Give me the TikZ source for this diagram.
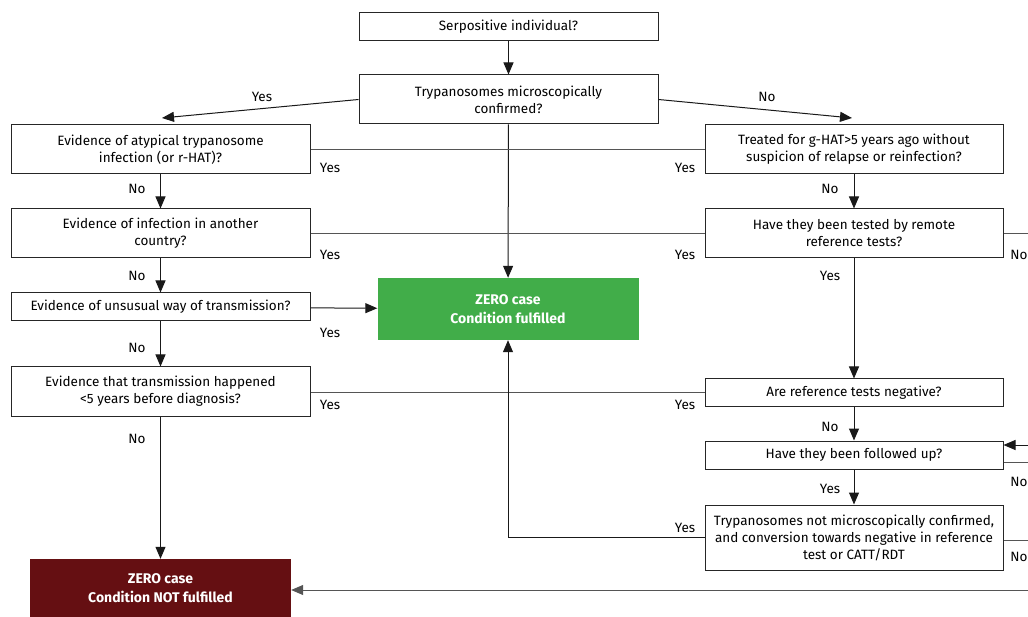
\documentclass[tikz,border=0pt]{standalone}
\usepackage{fontspec}
\setmainfont{Fira Sans}
\usetikzlibrary{arrows.meta}
\definecolor{okgreen}{HTML}{41AD49}
\definecolor{nored}{HTML}{650F12}
\definecolor{hline}{HTML}{555555}
\tikzset{
  qbox/.style={draw=black!85, line width=1pt, fill=white, align=center, inner sep=0pt, font=\fontsize{13.5}{17}\selectfont},
  endbox/.style={align=center, inner sep=0pt, text=white, font=\bfseries\fontsize{14}{19}\selectfont},
  conn/.style={line width=1pt, draw=black!90},
  arr/.style={conn, -{Triangle[length=12pt,width=10pt]}},
  hconn/.style={line width=1pt, draw=hline},
  harr/.style={hconn, -{Triangle[length=12pt,width=10pt]}},
  lbl/.style={inner sep=0pt, font=\fontsize{13.5}{15}\selectfont}
}
\begin{document}
\begin{tikzpicture}[x=1pt,y=-1pt]
\useasboundingbox (0,0) rectangle (1028,617);
% center column boxes
\node[qbox, minimum width=299pt, minimum height=28pt] (serp) at (508.5,27) {Serpositive individual?};
\node[qbox, minimum width=299pt, minimum height=49pt] (tryp) at (508.5,99.5) {Trypanosomes microscopically\\confirmed?};
\node[endbox, fill=okgreen, minimum width=261pt, minimum height=62pt] (zok) at (508,309) {ZERO case\\Condition fulfilled};
\node[endbox, fill=nored, minimum width=261pt, minimum height=58pt] (znot) at (160.5,588) {ZERO case\\Condition NOT fulfilled};
% left column
\node[qbox, minimum width=299pt, minimum height=49pt] (l1) at (160.5,149.5) {Evidence of atypical trypanosome\\infection (or r-HAT)?};
\node[qbox, minimum width=299pt, minimum height=49pt] (l2) at (160.5,233.5) {Evidence of infection in another\\country?};
\node[qbox, minimum width=299pt, minimum height=28pt] (l3) at (160.5,307) {Evidence of unsusual way of transmission?};
\node[qbox, minimum width=299pt, minimum height=49pt] (l4) at (160.5,391.5) {Evidence that transmission happened\\<5 years before diagnosis?};
% right column
\node[qbox, minimum width=298pt, minimum height=49pt] (r1) at (854,149.5) {Treated for g-HAT>5 years ago without\\suspicion of relapse or reinfection?};
\node[qbox, minimum width=298pt, minimum height=49pt] (r2) at (854,233.5) {Have they been tested by remote\\reference tests?};
\node[qbox, minimum width=298pt, minimum height=28pt] (r3) at (854,393) {Are reference tests negative?};
\node[qbox, minimum width=298pt, minimum height=28pt] (r4) at (854,455) {Have they been followed up?};
\node[qbox, minimum width=298pt, minimum height=65pt] (r5) at (854,537.5) {Trypanosomes not microscopically confirmed,\\and conversion towards negative in reference\\test or CATT/RDT};
% coordinates
\coordinate (ya) at (162,118);
\coordinate (na) at (852,118);
\coordinate (e2) at (1028,234);
\coordinate (e4in) at (1028,445);
\coordinate (e4out) at (1028,462);
\coordinate (e5) at (1028,540);
\coordinate (eb) at (1028,590);
% connectors
\draw[arr] (serp) -- (tryp);
\draw[arr] (tryp.west) -- (ya);
\draw[arr] (tryp.east) -- (na);
\draw[arr] (tryp) -- (zok);
% horizontal yes lines
\draw[hconn] (l1.east) -- (r1.west);
\draw[hconn] (l2.east) -- (r2.west);
\draw[hconn] (l4.east |- r3.west) -- (r3.west);
\draw[arr] (l3) -- (zok);
\draw[arr] (r5.west) -| (zok.south);
% left no arrows
\draw[arr] (l1) -- (l2);
\draw[arr] (l2) -- (l3);
\draw[arr] (l3) -- (l4);
\draw[arr] (l4) -- (znot);
% right column
\draw[arr] (r1) -- (r2);
\draw[arr] (r2) -- (r3);
\draw[arr] (r3) -- (r4);
\draw[arr] (r4) -- (r5);
\draw[hconn] (r2.east |- e2) -- (e2);
\draw[arr] (e4in) -- (r4.east |- e4in);
\draw[hconn] (r4.east |- e4out) -- (e4out);
\draw[hconn] (r5.east |- e5) -- (e5);
\draw[harr] (eb) -- (znot.east |- eb);
% labels
\node[lbl] at (262,97) {Yes};
\node[lbl] at (767,97) {No};
\node[lbl] at (330,168) {Yes};
\node[lbl] at (330,255) {Yes};
\node[lbl] at (330,333) {Yes};
\node[lbl] at (330,405) {Yes};
\node[lbl] at (685,168) {Yes};
\node[lbl] at (685,255) {Yes};
\node[lbl] at (685,405) {Yes};
\node[lbl] at (685,528) {Yes};
\node[lbl] at (137,189) {No};
\node[lbl] at (137,276) {No};
\node[lbl] at (137,348) {No};
\node[lbl] at (137,439) {No};
\node[lbl] at (830,189) {No};
\node[lbl] at (830,276) {Yes};
\node[lbl] at (830,427) {No};
\node[lbl] at (830,489) {Yes};
\node[lbl] at (1019,255) {No};
\node[lbl] at (1019,482) {No};
\node[lbl] at (1019,557) {No};
\end{tikzpicture}
\end{document}
